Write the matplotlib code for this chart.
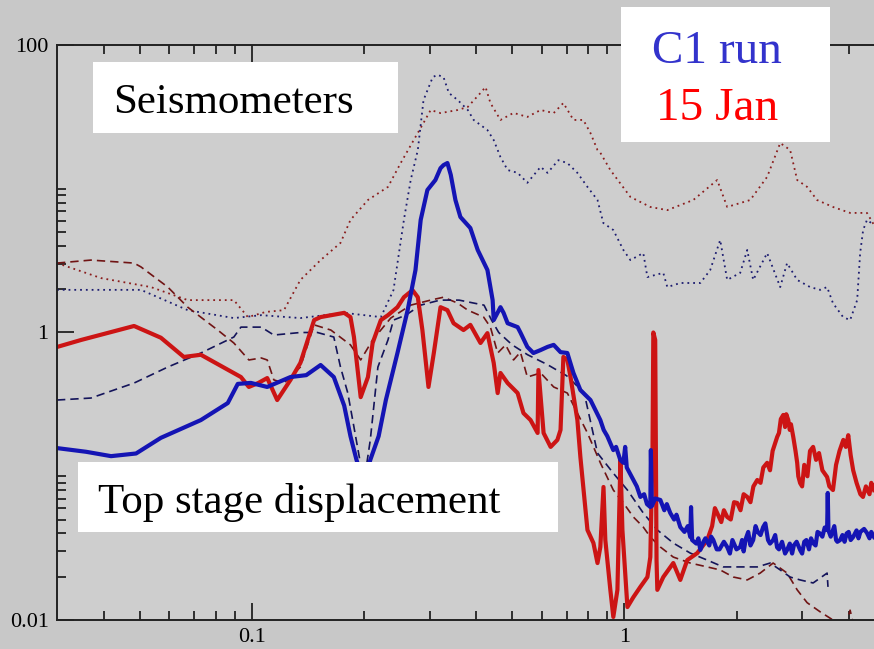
import numpy as np
import matplotlib.pyplot as plt
from matplotlib.patches import Rectangle
from matplotlib.ticker import FixedLocator, FixedFormatter, NullFormatter

# ---- data (frequency in Hz, amplitude) ----
# C1 run, top stage displacement (thick blue): below and above 1.2 Hz
c1_top_f_lo = [0.030, 0.0359, 0.0419, 0.0489, 0.057, 0.073, 0.0862, 0.0917, 0.0994, 0.110,
               0.127, 0.140, 0.153, 0.166, 0.177, 0.184, 0.191, 0.200, 0.208, 0.219,
               0.229, 0.246, 0.262, 0.275, 0.284, 0.296, 0.311, 0.321, 0.327, 0.335,
               0.342, 0.352, 0.363, 0.386, 0.404, 0.429, 0.443, 0.446, 0.465, 0.474,
               0.486, 0.517, 0.526, 0.549, 0.570, 0.596, 0.622, 0.646, 0.674, 0.703,
               0.730, 0.762, 0.811, 0.862, 0.88, 0.90, 0.934, 0.95, 0.975, 0.994,
               1.005, 1.015, 1.057, 1.08, 1.104, 1.13, 1.15, 1.174, 1.178, 1.185,
               1.21]
c1_top_v_lo = [0.157, 0.148, 0.138, 0.144, 0.185, 0.246, 0.323, 0.439, 0.446, 0.418,
               0.49, 0.505, 0.594, 0.49, 0.31, 0.19, 0.13, 0.09, 0.13, 0.19,
               0.339, 0.72, 1.43, 2.72, 6.07, 9.8, 11.5, 13.9, 14.6, 15.1,
               12.5, 8.35, 6.36, 5.33, 3.75, 2.72, 1.68, 1.22, 1.50, 1.37,
               1.16, 1.09, 1.0, 0.794, 0.72, 0.755, 0.794, 0.82, 0.73, 0.72,
               0.523, 0.398, 0.339, 0.246, 0.21, 0.19, 0.152, 0.16, 0.13, 0.124,
               0.16, 0.115, 0.0942, 0.085, 0.0718, 0.075, 0.064, 0.0611, 0.152, 0.062,
               0.07]
c1_top_f_hi = [1.249, 1.28, 1.30, 1.328, 1.36, 1.38, 1.413, 1.45, 1.48, 1.503,
               1.51, 1.52, 1.56, 1.58, 1.599, 1.63, 1.65, 1.69, 1.71, 1.733,
               1.77, 1.80, 1.85, 1.888, 1.92, 1.95, 2.0, 2.046, 2.07, 2.09,
               2.12, 2.15, 2.18, 2.217, 2.25, 2.28, 2.32, 2.358, 2.39, 2.43,
               2.46, 2.508, 2.54, 2.57, 2.6, 2.65, 2.70, 2.734, 2.78, 2.82,
               2.85, 2.9, 2.963, 3.0, 3.04, 3.08, 3.13, 3.17, 3.211, 3.26,
               3.3, 3.35, 3.4, 3.45, 3.501, 3.515, 3.53, 3.58, 3.63, 3.66,
               3.70, 3.73, 3.795, 3.85, 3.9, 3.95, 4.0, 4.05, 4.113, 4.2,
               4.25, 4.3, 4.4, 4.479, 4.55, 4.6, 4.678]
c1_top_v_hi = [0.0684, 0.058, 0.064, 0.0555, 0.05, 0.054, 0.0443, 0.041, 0.045, 0.0378,
               0.061, 0.036, 0.034, 0.037, 0.0307, 0.035, 0.037, 0.033, 0.038, 0.036,
               0.031, 0.031, 0.035, 0.0322, 0.029, 0.036, 0.031, 0.0322, 0.036, 0.030,
               0.037, 0.041, 0.033, 0.036, 0.045, 0.041, 0.039, 0.0443, 0.047, 0.036,
               0.034, 0.036, 0.039, 0.032, 0.031, 0.035, 0.029, 0.0307, 0.034, 0.029,
               0.033, 0.035, 0.0307, 0.029, 0.035, 0.036, 0.031, 0.037, 0.0343, 0.033,
               0.041, 0.040, 0.038, 0.044, 0.0423, 0.0765, 0.042, 0.038, 0.0423, 0.045,
               0.036, 0.035, 0.036, 0.039, 0.035, 0.040, 0.041, 0.036, 0.0378, 0.042,
               0.037, 0.041, 0.043, 0.0403, 0.037, 0.041, 0.0378]

# 15 Jan, top stage displacement (thick red): below and above 1.6 Hz
jan_top_f_lo = [0.030, 0.0348, 0.0483, 0.057, 0.0657, 0.073, 0.0935, 0.0982, 0.104, 0.110,
                0.117, 0.127, 0.135, 0.147, 0.153, 0.177, 0.184, 0.188, 0.196, 0.205,
                0.211, 0.222, 0.232, 0.246, 0.256, 0.270, 0.279, 0.287, 0.298, 0.308,
                0.321, 0.335, 0.348, 0.370, 0.386, 0.411, 0.429, 0.446, 0.457, 0.465,
                0.486, 0.517, 0.536, 0.560, 0.585, 0.588, 0.607, 0.634, 0.661, 0.674,
                0.686, 0.703, 0.717, 0.748, 0.762, 0.796, 0.826, 0.847, 0.862, 0.879,
                0.889, 0.917, 0.934, 0.958, 0.976, 0.988, 1.019, 1.057, 1.104, 1.153,
                1.174, 1.19, 1.196, 1.21, 1.22, 1.226, 1.272, 1.353, 1.413, 1.475,
                1.569]
jan_top_v_lo = [0.793, 0.887, 1.11, 0.92, 0.676, 0.70, 0.49, 0.418, 0.445, 0.482,
                0.339, 0.468, 0.614, 1.22, 1.28, 1.37, 1.28, 0.93, 0.355, 0.49,
                0.845, 1.22, 1.32, 1.50, 1.76, 1.97, 1.76, 1.04, 0.418, 0.72,
                1.50, 1.43, 1.16, 1.04, 1.13, 0.845, 0.99, 0.614, 0.379, 0.523,
                0.445, 0.379, 0.275, 0.246, 0.20, 0.548, 0.20, 0.16, 0.179, 0.21,
                0.676, 0.644, 0.49, 0.246, 0.136, 0.0423, 0.0343, 0.0249, 0.0322, 0.0842,
                0.036, 0.0162, 0.0105, 0.0162, 0.13, 0.0423, 0.0123, 0.0144, 0.0170, 0.0199,
                0.0274, 0.152, 1.0, 0.887, 0.0261, 0.0162, 0.0199, 0.0249, 0.019, 0.0261,
                0.0292]
jan_top_f_hi = [1.669, 1.72, 1.75, 1.775, 1.82, 1.85, 1.888, 1.93, 1.97, 2.009,
                2.05, 2.09, 2.137, 2.18, 2.22, 2.274, 2.32, 2.36, 2.417, 2.46,
                2.5, 2.572, 2.6, 2.63, 2.67, 2.70, 2.72, 2.754, 2.78, 2.80,
                2.84, 2.88, 2.91, 2.93, 2.963, 3.0, 3.04, 3.1, 3.15, 3.211,
                3.27, 3.33, 3.4, 3.501, 3.55, 3.63, 3.7, 3.78, 3.87, 3.93,
                3.99, 4.05, 4.113, 4.2, 4.3, 4.37, 4.45, 4.55, 4.6, 4.678]
jan_top_v_hi = [0.036, 0.045, 0.06, 0.0555, 0.048, 0.058, 0.0521, 0.05, 0.066, 0.0652,
                0.058, 0.075, 0.0718, 0.066, 0.085, 0.0942, 0.09, 0.115, 0.124, 0.11,
                0.15, 0.188, 0.2, 0.25, 0.267, 0.22, 0.27, 0.246, 0.21, 0.23,
                0.188, 0.15, 0.124, 0.1, 0.0897, 0.085, 0.12, 0.1, 0.15, 0.16,
                0.13, 0.145, 0.11, 0.0988, 0.085, 0.0802, 0.12, 0.15, 0.179, 0.16,
                0.193, 0.14, 0.110, 0.09, 0.075, 0.0718, 0.085, 0.075, 0.09, 0.0802]

# C1 run, seismometer (blue dotted)
c1_seis_f = [0.030, 0.0504, 0.0673, 0.0895, 0.106, 0.135, 0.177, 0.222, 0.240, 0.256,
             0.267, 0.279, 0.289, 0.306, 0.315, 0.327, 0.338, 0.357, 0.380, 0.394,
             0.429, 0.446, 0.465, 0.486, 0.517, 0.549, 0.596, 0.622, 0.665, 0.703,
             0.748, 0.796, 0.847, 0.878, 0.934, 0.994, 1.038, 1.124, 1.153, 1.272,
             1.304, 1.413, 1.599, 1.70, 1.808, 1.888, 2.046, 2.137, 2.217, 2.417,
             2.62, 2.734, 2.91, 3.152, 3.354, 3.501, 3.63, 3.865, 4.036, 4.216,
             4.294, 4.374, 4.479, 4.678]
c1_seis_v = [1.98, 1.98, 1.43, 1.26, 1.32, 1.26, 1.37, 1.28, 1.97, 6.07,
             11.5, 18.6, 41.4, 59.8, 62.0, 59.8, 46.4, 41.4, 35.3, 30.1,
             25.6, 21.8, 16.6, 13.5, 12.9, 11.0, 14.2, 12.9, 15.8, 15.1,
             12.9, 10.3, 8.35, 5.78, 5.16, 3.75, 3.19, 3.57, 2.43, 2.6,
             2.07, 2.21, 2.21, 2.72, 4.40, 2.32, 2.6, 3.75, 2.32, 3.57,
             2.07, 3.04, 2.32, 2.07, 1.98, 2.07, 1.60, 1.28, 1.22, 1.68,
             3.57, 5.16, 6.07, 5.6]

# 15 Jan, seismometer (red dotted)
jan_seis_f = [0.030, 0.0394, 0.0536, 0.0673, 0.0895, 0.0976, 0.109, 0.122, 0.135, 0.153,
              0.173, 0.184, 0.205, 0.232, 0.251, 0.272, 0.289, 0.302, 0.321, 0.357,
              0.380, 0.411, 0.424, 0.437, 0.465, 0.504, 0.549, 0.596, 0.646, 0.686,
              0.730, 0.776, 0.811, 0.847, 0.862, 0.917, 1.038, 1.174, 1.304, 1.531,
              1.775, 1.888, 2.177, 2.417, 2.62, 2.786, 2.91, 3.094, 3.29, 3.63,
              4.036, 4.479, 4.678]
jan_seis_v = [3.04, 2.39, 2.07, 1.68, 1.68, 1.28, 1.39, 1.43, 2.32, 3.19,
              4.2, 6.07, 8.35, 10.3, 15.1, 21.8, 28.7, 35.3, 33.6, 35.3,
              37.1, 46.4, 51.0, 39.5, 30.1, 33.7, 31.6, 35.3, 33.6, 39.5,
              30.1, 30.1, 24.4, 18.6, 17.8, 13.5, 8.77, 7.47, 7.1, 8.35,
              11.5, 7.47, 8.35, 12.1, 20.8, 18.6, 11.5, 10.3, 8.35, 7.47,
              6.79, 6.79, 5.6]

# C1 run, second displacement trace (blue dashed)
c1_dash_f = [0.030, 0.037, 0.0483, 0.0595, 0.073, 0.0895, 0.0935, 0.106, 0.1146, 0.135,
             0.150, 0.166, 0.173, 0.181, 0.188, 0.196, 0.200, 0.208, 0.218, 0.232,
             0.240, 0.259, 0.284, 0.32, 0.36, 0.42, 0.44, 0.46, 0.50, 0.55,
             0.62, 0.70, 0.78, 0.847, 0.934, 1.019, 1.124, 1.226, 1.353, 1.503,
             1.669, 1.842, 2.046, 2.274, 2.462, 2.62, 2.786, 2.963, 3.211, 3.501,
             3.52]
c1_dash_v = [0.339, 0.35, 0.445, 0.575, 0.72, 0.93, 1.09, 1.09, 0.96, 1.0,
             1.0, 0.93, 0.575, 0.379, 0.22, 0.12, 0.09, 0.179, 0.575, 0.887,
             1.22, 1.32, 1.55, 1.68, 1.68, 1.55, 1.22, 1.0, 0.82, 0.70,
             0.60, 0.50, 0.38, 0.145, 0.105, 0.0802, 0.0555, 0.0423, 0.0343, 0.0292,
             0.0261, 0.0234, 0.0234, 0.0234, 0.0249, 0.0223, 0.0199, 0.019, 0.0181, 0.0212,
             0.017]

# 15 Jan, second displacement trace (red dashed)
jan_dash_f = [0.030, 0.037, 0.0483, 0.0504, 0.0595, 0.0673, 0.081, 0.0895, 0.0982, 0.106,
              0.110, 0.1146, 0.122, 0.135, 0.147, 0.163, 0.184, 0.196, 0.211, 0.236,
              0.267, 0.302, 0.327, 0.357, 0.380, 0.419, 0.437, 0.457, 0.48, 0.504,
              0.526, 0.549, 0.596, 0.646, 0.703, 0.748, 0.796, 0.862, 0.934, 0.994,
              1.057, 1.124, 1.174, 1.249, 1.353, 1.503, 1.669, 1.808, 1.961, 2.137,
              2.315, 2.508, 2.734, 2.91, 3.094, 3.354, 3.63, 3.9, 4.036, 4.15]
jan_dash_v = [3.04, 3.19, 3.04, 2.86, 2.07, 1.50, 1.04, 0.845, 0.644, 0.665,
              0.644, 0.468, 0.445, 0.575, 1.13, 1.04, 0.82, 0.644, 0.887, 1.26,
              1.55, 1.68, 1.76, 1.6, 1.43, 1.28, 1.09, 0.72, 0.82, 0.644,
              0.73, 0.49, 0.523, 0.418, 0.379, 0.275, 0.20, 0.124, 0.0802, 0.0652,
              0.0521, 0.0443, 0.0378, 0.0322, 0.0274, 0.0249, 0.0234, 0.0223, 0.0199, 0.019,
              0.0212, 0.0249, 0.0212, 0.0162, 0.0132, 0.0114, 0.0100, 0.0086, 0.0117, 0.0086]

x_major = [0.1, 1]
x_major_labels = ['0.1', '1']
x_minor = [0.04, 0.05, 0.06, 0.07, 0.08, 0.09, 0.2, 0.3, 0.4, 0.5, 0.6, 0.7, 0.8, 0.9, 2, 3, 4]
y_major = [0.01, 1, 100]
y_major_labels = ['0.01', '1', '100']
y_minor = [0.02, 0.03, 0.04, 0.05, 0.06, 0.07, 0.08, 0.09, 0.1, 2, 3, 4, 5, 6, 7, 8, 9, 10]

W, H = 874, 649
fig = plt.figure(figsize=(W / 100, H / 100), dpi=100, facecolor='#c8c8c8')
ax = fig.add_axes([57 / W, 1 - 620 / H, (W - 57) / W, (620 - 45) / H])
ax.set_facecolor('#cecece')

# seismometers
ax.plot(jan_seis_f, jan_seis_v, color='#8a1c1c', lw=1.3, ls=(0, (1, 2.2)))
ax.plot(c1_seis_f, c1_seis_v, color='#1c1c70', lw=1.3, ls=(0, (1, 2.2)))
# dashed traces
ax.plot(jan_dash_f, jan_dash_v, color='#701414', lw=1.2, ls=(0, (5, 3)))
ax.plot(c1_dash_f, c1_dash_v, color='#14145a', lw=1.2, ls=(0, (5, 3)))
# top stage displacement
ax.plot(jan_top_f_lo + jan_top_f_hi, jan_top_v_lo + jan_top_v_hi, color='#cc1414', lw=3)
ax.plot(c1_top_f_lo + c1_top_f_hi, c1_top_v_lo + c1_top_v_hi, color='#1414b4', lw=3)

ax.set_xscale('log')
ax.set_yscale('log')
ax.set_xlim(0.03, 4.678)
ax.set_ylim(0.01, 100)

ax.xaxis.set_major_locator(FixedLocator(x_major))
ax.xaxis.set_major_formatter(FixedFormatter(x_major_labels))
ax.xaxis.set_minor_locator(FixedLocator(x_minor))
ax.xaxis.set_minor_formatter(NullFormatter())
ax.yaxis.set_major_locator(FixedLocator(y_major))
ax.yaxis.set_major_formatter(FixedFormatter(y_major_labels))
ax.yaxis.set_minor_locator(FixedLocator(y_minor))
ax.yaxis.set_minor_formatter(NullFormatter())

ax.tick_params(which='both', direction='in', top=True, right=False, color='#222222', width=1.3)
ax.tick_params(which='major', length=12, labelsize=16, pad=6)
ax.tick_params(which='minor', length=6.5)
for lab in ax.get_xticklabels() + ax.get_yticklabels():
    lab.set_family('Liberation Serif')
for side in ['left', 'bottom', 'top']:
    ax.spines[side].set_color('#222222')
    ax.spines[side].set_linewidth(1.4)
ax.spines['right'].set_visible(False)


def box(x0, y0, x1, y1):
    fig.add_artist(Rectangle((x0 / W, 1 - y1 / H), (x1 - x0) / W, (y1 - y0) / H,
                             transform=fig.transFigure, facecolor='white',
                             edgecolor='none', zorder=5))


def label(x, y, s, color, size):
    fig.text(x / W, 1 - y / H, s, color=color, fontsize=size, family='Liberation Serif',
             va='baseline', ha='left', zorder=6)


box(93, 62, 398, 133)
label(113, 113, 'Seismometers', 'black', 31)
box(78, 462, 558, 532)
label(98, 513, 'Top stage displacement', 'black', 31)
box(621, 7, 830, 142)
label(652, 63, 'C1 run', '#3333cc', 34)
label(656, 120, '15 Jan', '#ff0000', 34)

fig.savefig('out.png', dpi=100, facecolor=fig.get_facecolor())
